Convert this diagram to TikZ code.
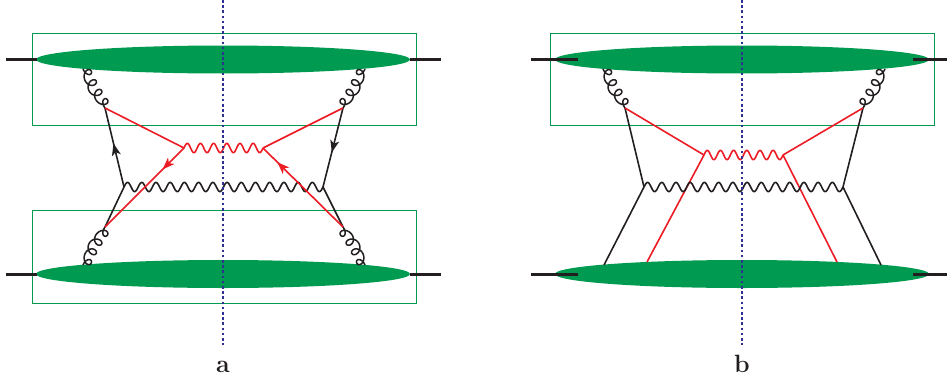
\documentclass[tikz,border=0pt]{standalone}
\usetikzlibrary{decorations.markings,arrows.meta,calc}
\definecolor{pgreen}{RGB}{0,154,80}
\definecolor{pred}{RGB}{237,28,36}
\definecolor{pblue}{RGB}{46,49,146}
\definecolor{pblack}{RGB}{35,31,32}
\tikzset{
  x=1pt,y=-1pt,
  frame/.style={draw=pgreen,line width=0.9pt,minimum width=384pt,minimum height=92.5pt,inner sep=0pt},
  blob/.style={fill=pgreen,draw=none},
  beam/.style={draw=pblack,line width=3pt},
  cutline/.style={draw=pblue,line width=2pt,dash pattern=on 2.6pt off 2.6pt},
  bline/.style={draw=pblack,line width=1.6pt},
  rline/.style={draw=pred,line width=1.6pt},
  bwave/.style={draw=pblack,line width=1.6pt,line join=round},
  rwave/.style={draw=pred,line width=1.6pt,line join=round},
  gline/.style={draw=pblack,line width=1.5pt,line join=round},
  arr/.style={postaction={decorate,decoration={markings,mark=at position #1 with {\arrow{Stealth[length=12pt,width=9pt,inset=3.2pt]}}}}},
  lab/.style={font=\fontsize{25}{28}\selectfont\bfseries,text=pblack,inner sep=0pt,anchor=base}
}
% #1 style, #2 from, #3 to, #4 periods, #5 amplitude
\newcommand{\wavyline}[5]{%
  \draw[#1] let \p1=(#2),\p2=(#3) in
    plot[variable=\t,domain=0:1,samples=361]
    ({\x1*(1-\t)+\x2*\t},{\y1*(1-\t)+\y2*\t+#5pt*sin(360*#4*\t)});}
% #1 from, #2 to, #3 side (+1/-1)
\newcommand{\gluonline}[3]{%
  \draw[gline] let \p1=(#1),\p2=(#2),\n1={veclen(\x2-\x1,\y2-\y1)} in
    plot[variable=\t,domain=0:1,samples=241]
    ({\x1+(\x2-\x1)*(\t+5.1pt/\n1*sin(1440*\t))+#3*(\y1-\y2)*((5.5pt*(1-cos(1440*\t))*(0.6+0.4*sin(180*\t))-5.5pt*sin(180*\t))/\n1)},
     {\y1+(\y2-\y1)*(\t+5.1pt/\n1*sin(1440*\t))+#3*(\x2-\x1)*((5.5pt*(1-cos(1440*\t))*(0.6+0.4*sin(180*\t))-5.5pt*sin(180*\t))/\n1)});}
\begin{document}
\begin{tikzpicture}
\useasboundingbox (0,0) rectangle (947,380);
% ---------- panel a
\node[frame] (ra1) at (224,79.25) {};
\node[frame] (ra2) at (224,256.75) {};
\fill[blob] (223,59.5) ellipse [x radius=187,y radius=14];
\fill[blob] (223,274) ellipse [x radius=187,y radius=14];
\coordinate (a1L) at (6,59.5); \coordinate (a1l) at (37,59.5);
\coordinate (a1R) at (441,59.5); \coordinate (a1r) at (410,59.5);
\coordinate (a2L) at (6,274); \coordinate (a2l) at (37,274);
\coordinate (a2R) at (441,274); \coordinate (a2r) at (410,274);
\draw[beam] (a1L)--(a1l); \draw[beam] (a1r)--(a1R);
\draw[beam] (a2L)--(a2l); \draw[beam] (a2r)--(a2R);
\coordinate (aTL) at (105,108); \coordinate (aTR) at (343,108);
\coordinate (aBL) at (105,227); \coordinate (aBR) at (343,227);
\coordinate (aWL) at (124,187); \coordinate (aWR) at (323,187);
\coordinate (aRL) at (184,148); \coordinate (aRR) at (263,148);
\coordinate (ag1) at (83,69); \coordinate (ag2) at (365,69);
\coordinate (ag3) at (83,265); \coordinate (ag4) at (365,265);
\gluonline{ag1}{aTL}{1}
\gluonline{ag2}{aTR}{-1}
\gluonline{ag3}{aBL}{-1}
\gluonline{ag4}{aBR}{1}
\draw[bline,arr=0.55] (aWL)--(aTL);
\draw[bline,arr=0.56] (aTR)--(aWR);
\draw[bline] (aWL)--(aBL);
\draw[bline] (aWR)--(aBR);
\wavyline{bwave}{aWL}{aWR}{14}{4.6}
\draw[rline] (aTL)--(aRL);
\draw[rline] (aTR)--(aRR);
\draw[rline,arr=0.27] (aRL)--(aBL);
\draw[rline,arr=0.82] (aBR)--(aRR);
\wavyline{rwave}{aRL}{aRR}{6}{4.6}
\coordinate (acT) at (223,0); \coordinate (acB) at (223,345);
\draw[cutline] (acT)--(acB);
\node[lab] (la) at (223,372) {a};
% ---------- panel b
\node[frame] (rb) at (742.5,79.25) {};
\fill[blob] (742,59.5) ellipse [x radius=187,y radius=14];
\fill[blob] (742,274) ellipse [x radius=187,y radius=14];
\coordinate (b1L) at (531,59.5); \coordinate (b1l) at (578,59.5);
\coordinate (b1R) at (947,59.5); \coordinate (b1r) at (913,59.5);
\coordinate (b2L) at (531,274); \coordinate (b2l) at (578,274);
\coordinate (b2R) at (947,274); \coordinate (b2r) at (913,274);
\draw[beam] (b1L)--(b1l); \draw[beam] (b1r)--(b1R);
\draw[beam] (b2L)--(b2l); \draw[beam] (b2r)--(b2R);
\coordinate (bTL) at (625,108); \coordinate (bTR) at (863,108);
\coordinate (bWL) at (644,187); \coordinate (bWR) at (843,187);
\coordinate (bRL) at (704,155); \coordinate (bRR) at (783,155);
\coordinate (bg1) at (603,69); \coordinate (bg2) at (885,69);
\coordinate (bBL) at (604,265); \coordinate (bBR) at (881,265);
\coordinate (bFL) at (647,262); \coordinate (bFR) at (837,262);
\gluonline{bg1}{bTL}{1}
\gluonline{bg2}{bTR}{-1}
\draw[bline] (bTL)--(bWL);
\draw[bline] (bTR)--(bWR);
\draw[bline] (bWL)--(bBL);
\draw[bline] (bWR)--(bBR);
\draw[rline] (bTL)--(bRL);
\draw[rline] (bTR)--(bRR);
\draw[rline] (bRL)--(bFL);
\draw[rline] (bRR)--(bFR);
\wavyline{bwave}{bWL}{bWR}{14}{4.6}
\wavyline{rwave}{bRL}{bRR}{6}{4.6}
\coordinate (bcT) at (742,0); \coordinate (bcB) at (742,345);
\draw[cutline] (bcT)--(bcB);
\node[lab] (lb) at (742,372) {b};
\end{tikzpicture}
\end{document}
